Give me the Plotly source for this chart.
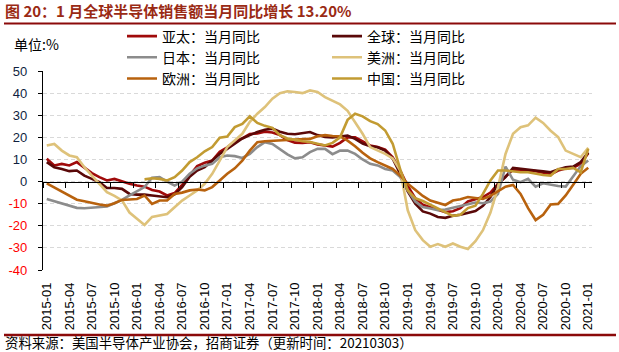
import plotly.graph_objects as go

# ---------------- data ----------------
months = [f"{y}-{m:02d}" for y in range(2015, 2022) for m in range(1, 13)][:73]

asia_pacific = [10.3, 7.3, 8.0, 7.3, 8.8, 6.2, 3.8, 2.0, 0.5, 1.2,
                0.0, -1.0, -1.8, -2.3, -3.8, -4.5, -6.3, -5.2, -1.5, 3.0,
                7.0, 8.5, 9.5, 13.5, 15.5, 18.2, 19.5, 21.5, 21.8, 22.5,
                22.2, 21.0, 18.8, 17.6, 17.5, 17.8, 16.8, 16.3, 15.8, 17.5,
                20.0, 20.0, 18.0, 16.3, 15.6, 14.4, 11.0, 5.0, -2.0, -7.5,
                -10.5, -11.5, -12.6, -13.8, -13.4, -12.0, -9.0, -7.9, -7.0, -5.0,
                -1.0, 2.3, 5.3, 5.0, 4.8, 4.7, 4.0, 3.2, 5.0, 5.9,
                6.2, 8.0, 12.8]

global_ = [8.8, 6.5, 5.7, 4.7, 5.0, 2.7, 1.2, -0.3, -2.9, -2.9,
           -3.3, -5.6, -5.9, -5.9, -6.3, -6.8, -7.1, -5.8, -2.5, 2.2,
           5.0, 6.5, 9.5, 12.5, 14.8, 17.2, 19.5, 21.0, 22.4, 23.4,
           23.9, 22.5, 21.6, 21.4, 21.8, 22.4, 21.0, 20.2, 19.9, 20.5,
           20.8, 19.3, 17.2, 16.0, 15.5, 14.0, 10.3, 3.5, -4.5, -10.0,
           -13.5, -14.5, -16.0, -16.4, -15.5, -15.0, -14.0, -13.3, -11.0, -7.0,
           -1.0, 2.0, 6.2, 5.7, 5.3, 5.0, 4.6, 4.2, 5.5, 6.4,
           6.8, 8.8, 13.2]

japan = [-7.9, -8.9, -9.8, -10.9, -11.9, -12.1, -11.9, -11.6, -11.3, -9.8,
         -8.3, -6.3, -4.5, -2.5, 1.7, 2.0, 0.0, -1.8, 0.0, 3.5,
         6.0, 7.2, 8.0, 11.0, 11.8, 11.5, 10.7, 12.5, 15.6, 17.8,
         17.0, 14.5, 12.3, 10.5, 11.0, 13.3, 14.8, 14.8, 12.4, 14.0,
         14.0, 12.5, 10.0, 8.0, 7.3, 5.7, 5.0, 2.0, -4.0, -9.0,
         -11.5, -12.2, -13.0, -12.6, -11.8, -10.8, -10.0, -9.5, -9.8, -9.0,
         -5.6, 6.8, 0.8, -0.3, 1.2, -2.3, -0.8, -1.5, -2.0, -2.3,
         2.5, 7.0, 9.5]

americas = [16.3, 17.0, 14.0, 11.8, 11.0, 6.5, 2.7, -1.0, -4.8, -6.5,
            -8.5, -14.0, -17.0, -19.6, -16.0, -15.4, -14.7, -11.6, -8.6, -6.3,
            -4.0, -1.0, 3.5, 9.5, 15.6, 18.6, 21.6, 27.0, 30.7, 33.7,
            37.5, 40.0, 40.8, 40.5, 40.0, 41.2, 40.5, 38.2, 36.4, 34.9,
            32.0, 27.0, 21.6, 15.6, 14.0, 12.5, 10.5, 5.0, -13.0, -22.0,
            -26.5, -29.5, -28.3, -29.5, -28.0, -29.5, -30.5, -27.0, -22.0, -14.0,
            -2.6, 12.5, 21.6, 24.6, 25.4, 28.9, 26.5, 23.0, 20.1, 14.0,
            12.5, 11.0, 15.3]

europe = [-0.8, -2.6, -4.5, -6.3, -8.2, -8.9, -9.8, -10.4, -10.9, -9.8,
          -8.3, -8.2, -7.9, -6.3, -10.1, -8.6, -8.6, -5.6, -5.0, -4.0,
          -3.6, -4.0, -2.5, 0.5, 3.5, 6.0, 9.5, 14.0, 17.8, 18.2,
          18.5, 18.6, 18.8, 19.0, 19.3, 19.3, 20.5, 21.0, 20.6, 20.4,
          18.5, 16.0, 13.0, 10.5, 8.8, 7.3, 5.7, 2.7, -1.0, -3.7,
          -6.5, -8.6, -9.6, -10.6, -8.6, -8.0, -7.0, -7.6, -7.9, -6.5,
          -4.5, -2.3, -1.5, -5.6, -12.0, -17.4, -15.0, -10.4, -10.1, -6.3,
          -1.5, 3.5, 6.2]

china = [None] * 13 + [
    1.0, 1.5, 1.2, 0.5, 2.0, 5.0, 8.8,
    11.0, 13.7, 15.6, 19.8, 20.4, 24.6, 26.1, 29.5, 26.5, 25.2,
    24.3, 21.0, 19.5, 18.9, 18.2, 17.9, 17.0, 16.3, 17.5, 20.0,
    27.9, 30.7, 29.5, 27.3, 26.0, 23.1, 17.1, 5.5, -4.0, -7.5,
    -8.8, -10.5, -12.0, -14.0, -15.5, -15.0, -12.0, -10.9, -5.6, 0.5,
    5.0, 5.0, 4.5, 4.2, 4.2, 3.5, 3.0, 2.7, 5.7, 5.7,
    6.2, 4.2, 14.8]

series_names = ["亚太：当月同比", "全球：当月同比", "日本：当月同比",
                "美洲：当月同比", "欧洲：当月同比", "中国：当月同比"]
series_values = [asia_pacific, global_, japan, americas, europe, china]
series_colors = ["#A00A0A", "#5A0808", "#8C8C8C", "#DEC27A", "#B8620E", "#C29B32"]
series_legend = ["legend", "legend2", "legend", "legend2", "legend", "legend2"]

y_ticks = list(range(-40, 51, 10))

# ---------------- layout geometry ----------------
W, H = 619, 352
L, R, T, B = 43, 27, 71, 82
PW, PH = W - L - R, H - T - B


def px_x(px):
    return (px - L) / PW


def px_y(py):
    return (H - B - py) / PH


idx = list(range(len(months)))

fig = go.Figure()
for name, vals, col, lg in zip(series_names, series_values, series_colors, series_legend):
    fig.add_trace(go.Scatter(x=idx, y=vals, mode="lines", name=name,
                             line=dict(color=col, width=2.6), legend=lg,
                             connectgaps=False))

# dummy trace so the zero-line axis (x2) exists
fig.add_trace(go.Scatter(x=[0, 1], y=[None, None], xaxis="x2", yaxis="y",
                         showlegend=False, hoverinfo="skip", mode="lines"))

y_text = []
for v in y_ticks:
    if v < 0:
        y_text.append(f"<span style='color:#FF0000'>{v}</span>")
    else:
        y_text.append(str(v))

legend_font = dict(family="Noto Sans CJK SC", size=14, color="#000000")

fig.update_layout(
    width=W, height=H,
    margin=dict(l=L, r=R, t=T, b=B, autoexpand=False),
    paper_bgcolor="white", plot_bgcolor="white",
    showlegend=True,
    title=dict(text="<b>图 20：1 月全球半导体销售额当月同比增长 13.20%</b>",
               xref="container", yref="container", x=5 / W, y=1 - 12 / H,
               xanchor="left", yanchor="middle",
               font=dict(family="Noto Sans CJK SC", size=15, color="#9A2A14")),
    xaxis=dict(type="linear", range=[-0.5, len(months) - 0.5],
               tickvals=idx[::3], ticktext=months[::3], tickangle=-90,
               ticks="", showline=False, showgrid=False, zeroline=False,
               ticklabelstandoff=9, automargin=False,
               tickfont=dict(family="Liberation Sans, Arial", size=13, color="#000000")),
    xaxis2=dict(type="linear", overlaying="x", anchor="free", position=40 / 90,
                range=[-0.5, len(months) - 0.5],
                tickvals=[i - 0.5 for i in idx[::3]],
                showticklabels=False, ticks="outside", ticklen=5,
                tickcolor="#000000", tickwidth=1.2,
                showline=True, linecolor="#000000", linewidth=1.4,
                showgrid=False, zeroline=False, automargin=False),
    yaxis=dict(range=[-40, 50], tickvals=y_ticks, ticktext=y_text,
               showgrid=True, gridcolor="#D9D9D9", griddash="4px,3px", gridwidth=1,
               showline=True, linecolor="#000000", linewidth=1.4,
               ticks="outside", ticklen=4, tickcolor="#000000",
               zeroline=False, ticklabelstandoff=8, automargin=False,
               tickfont=dict(family="Liberation Sans, Arial", size=13, color="#0F1F3F")),
    legend=dict(xref="container", yref="container", x=122 / W, y=1 - 20.5 / H,
                xanchor="left", yanchor="top", bgcolor="rgba(0,0,0,0)",
                font=legend_font, itemwidth=30, tracegroupgap=0),
    legend2=dict(xref="container", yref="container", x=327 / W, y=1 - 20.5 / H,
                 xanchor="left", yanchor="top", bgcolor="rgba(0,0,0,0)",
                 font=legend_font, itemwidth=30, tracegroupgap=0),
    shapes=[
        dict(type="line", xref="paper", yref="paper",
             x0=px_x(4), x1=px_x(616), y0=px_y(23.5), y1=px_y(23.5),
             line=dict(color="#8B0A0A", width=2)),
        dict(type="line", xref="paper", yref="paper",
             x0=px_x(4), x1=px_x(616), y0=px_y(335), y1=px_y(335),
             line=dict(color="#8B0A0A", width=2.6)),
    ],
    annotations=[
        dict(text="单位:%", xref="paper", yref="paper",
             x=px_x(12), y=px_y(44), xanchor="left", yanchor="middle",
             showarrow=False,
             font=dict(family="Noto Sans CJK SC", size=14, color="#000000")),
        dict(text="资料来源：美国半导体产业协会，招商证券（更新时间：20210303）",
             xref="paper", yref="paper",
             x=px_x(4), y=px_y(342.3), xanchor="left", yanchor="middle",
             showarrow=False, borderpad=0,
             font=dict(family="Noto Sans CJK SC", size=13.4, color="#000000")),
    ],
)

fig.write_html("out.html")
